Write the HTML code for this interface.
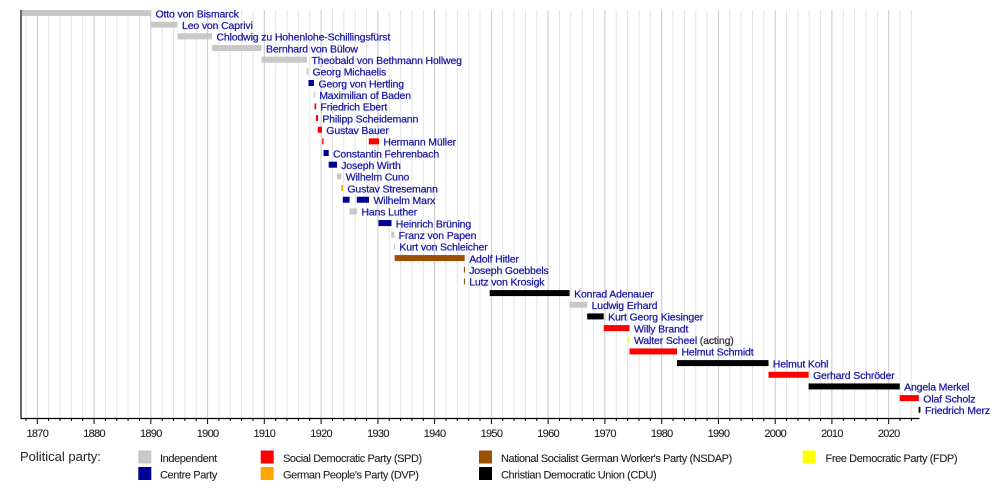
<!DOCTYPE html>
<html><head><meta charset="utf-8"><style>
html,body{margin:0;padding:0;background:#fff;}
svg{display:block;}
.n{font-family:"Liberation Sans",Arial,sans-serif;font-size:10.5px;letter-spacing:-0.15px;fill:#1818a4;stroke:#1818a4;stroke-width:0.25px;}
.t{font-family:"Liberation Sans",Arial,sans-serif;font-size:11px;letter-spacing:-0.7px;fill:#222;text-anchor:middle;stroke:#222;stroke-width:0.1px;}
.l{font-family:"Liberation Sans",Arial,sans-serif;font-size:11px;letter-spacing:-0.4px;fill:#222;stroke:#222;stroke-width:0.1px;}
</style></head><body>
<svg width="1000" height="488" viewBox="0 0 1000 488" xmlns="http://www.w3.org/2000/svg">
<rect width="1000" height="488" fill="#fff"/>
<!-- minor gridlines -->
<path stroke="#e4e4e4" stroke-width="1" fill="none" d="M26 10V418M48.6 10V418M60 10V418M71.4 10V418M82.7 10V418M105.4 10V418M116.8 10V418M128.1 10V418M139.5 10V418M162.2 10V418M173.5 10V418M184.9 10V418M196.2 10V418M218.9 10V418M230.3 10V418M241.6 10V418M253 10V418M275.7 10V418M287 10V418M298.4 10V418M309.7 10V418M332.5 10V418M343.8 10V418M355.2 10V418M366.5 10V418M389.2 10V418M400.6 10V418M411.9 10V418M423.3 10V418M446 10V418M457.3 10V418M468.7 10V418M480 10V418M502.7 10V418M514.1 10V418M525.4 10V418M536.8 10V418M559.5 10V418M570.8 10V418M582.2 10V418M593.5 10V418M616.3 10V418M627.6 10V418M639 10V418M650.3 10V418M673 10V418M684.4 10V418M695.7 10V418M707.1 10V418M729.8 10V418M741.1 10V418M752.5 10V418M763.8 10V418M786.5 10V418M797.9 10V418M809.2 10V418M820.6 10V418M843.3 10V418M854.6 10V418M866 10V418M877.3 10V418M900 10V418M911.4 10V418"/>
<!-- major gridlines -->
<path stroke="#c8c8c8" stroke-width="1" fill="none" d="M37.3 10V418M94.1 10V418M150.8 10V418M207.6 10V418M264.3 10V418M321.1 10V418M377.9 10V418M434.6 10V418M491.4 10V418M548.1 10V418M604.9 10V418M661.7 10V418M718.4 10V418M775.2 10V418M831.9 10V418M888.7 10V418"/>
<!-- axes -->
<path stroke="#000" stroke-width="1.2" fill="none" d="M21 10V418.5H919.5"/>
<path stroke="#000" stroke-width="1" fill="none" d="M26 418V421M48.6 418V421M60 418V421M71.4 418V421M82.7 418V421M105.4 418V421M116.8 418V421M128.1 418V421M139.5 418V421M162.2 418V421M173.5 418V421M184.9 418V421M196.2 418V421M218.9 418V421M230.3 418V421M241.6 418V421M253 418V421M275.7 418V421M287 418V421M298.4 418V421M309.7 418V421M332.5 418V421M343.8 418V421M355.2 418V421M366.5 418V421M389.2 418V421M400.6 418V421M411.9 418V421M423.3 418V421M446 418V421M457.3 418V421M468.7 418V421M480 418V421M502.7 418V421M514.1 418V421M525.4 418V421M536.8 418V421M559.5 418V421M570.8 418V421M582.2 418V421M593.5 418V421M616.3 418V421M627.6 418V421M639 418V421M650.3 418V421M673 418V421M684.4 418V421M695.7 418V421M707.1 418V421M729.8 418V421M741.1 418V421M752.5 418V421M763.8 418V421M786.5 418V421M797.9 418V421M809.2 418V421M820.6 418V421M843.3 418V421M854.6 418V421M866 418V421M877.3 418V421M900 418V421M911.4 418V421"/>
<path stroke="#000" stroke-width="1" fill="none" d="M37.3 418V424M94.1 418V424M150.8 418V424M207.6 418V424M264.3 418V424M321.1 418V424M377.9 418V424M434.6 418V424M491.4 418V424M548.1 418V424M604.9 418V424M661.7 418V424M718.4 418V424M775.2 418V424M831.9 418V424M888.7 418V424"/>
<!-- tick labels -->
<g class="t">
<text x="37.3" y="437">1870</text><text x="94.1" y="437">1880</text><text x="150.8" y="437">1890</text><text x="207.6" y="437">1900</text><text x="264.3" y="437">1910</text><text x="321.1" y="437">1920</text><text x="377.9" y="437">1930</text><text x="434.6" y="437">1940</text><text x="491.4" y="437">1950</text><text x="548.1" y="437">1960</text><text x="604.9" y="437">1970</text><text x="661.7" y="437">1980</text><text x="718.4" y="437">1990</text><text x="775.2" y="437">2000</text><text x="831.9" y="437">2010</text><text x="888.7" y="437">2020</text>
</g>
<!-- bars -->
<g>
<rect x="22" y="10" width="129" height="6" fill="#c8c8c8"/>
<rect x="151" y="21.67" width="26.5" height="6" fill="#c8c8c8"/>
<rect x="177.5" y="33.34" width="34.5" height="6" fill="#c8c8c8"/>
<rect x="212" y="45.01" width="49.5" height="6" fill="#c8c8c8"/>
<rect x="261.5" y="56.68" width="45.5" height="6" fill="#c8c8c8"/>
<rect x="306.5" y="68.35" width="2" height="6" fill="#c8c8c8"/>
<rect x="308.5" y="80.02" width="5.5" height="6" fill="#000099"/>
<rect x="313.8" y="91.69" width="1.3" height="6" fill="#c8c8c8"/>
<rect x="314.5" y="103.36" width="1.7" height="6" fill="#ff0000"/>
<rect x="316" y="115.03" width="2" height="6" fill="#ff0000"/>
<rect x="317.7" y="126.7" width="4.3" height="6" fill="#ff0000"/>
<rect x="322.2" y="138.37" width="1.4" height="6" fill="#ff0000"/>
<rect x="368.8" y="138.37" width="10.2" height="6" fill="#ff0000"/>
<rect x="323.5" y="150.04" width="5.2" height="6" fill="#000099"/>
<rect x="328.7" y="161.71" width="8.3" height="6" fill="#000099"/>
<rect x="337" y="173.38" width="4.3" height="6" fill="#c8c8c8"/>
<rect x="341.3" y="185.05" width="1.7" height="6" fill="#ffa500"/>
<rect x="342.8" y="196.72" width="6.8" height="6" fill="#000099"/>
<rect x="356.8" y="196.72" width="12.2" height="6" fill="#000099"/>
<rect x="349.4" y="208.39" width="7.6" height="6" fill="#c8c8c8"/>
<rect x="378.5" y="220.06" width="13" height="6" fill="#000099"/>
<rect x="391.3" y="231.73" width="2.9" height="6" fill="#c8c8c8"/>
<rect x="394" y="243.4" width="1.2" height="6" fill="#c8c8c8"/>
<rect x="394.7" y="255.07" width="70" height="6" fill="#9a5000"/>
<rect x="463.9" y="266.74" width="1.1" height="6" fill="#9a5000"/>
<rect x="463.9" y="278.41" width="1.1" height="6" fill="#9a5000"/>
<rect x="489.7" y="290.08" width="79.9" height="6" fill="#000"/>
<rect x="569.6" y="301.75" width="17.6" height="6" fill="#c8c8c8"/>
<rect x="587.2" y="313.42" width="16.5" height="6" fill="#000"/>
<rect x="603.7" y="325.09" width="25.8" height="6" fill="#ff0000"/>
<rect x="628.2" y="336.76" width="1.4" height="6" fill="#ffff00"/>
<rect x="629.5" y="348.43" width="47.5" height="6" fill="#ff0000"/>
<rect x="677" y="360.1" width="91.5" height="6" fill="#000"/>
<rect x="768.5" y="371.77" width="40.1" height="6" fill="#ff0000"/>
<rect x="808.6" y="383.44" width="91.1" height="6" fill="#000"/>
<rect x="899.7" y="395.11" width="19.2" height="6" fill="#ff0000"/>
<rect x="918.6" y="406.78" width="1.8" height="6" fill="#000"/>
</g>
<!-- names -->
<g class="n">
<text x="155.5" y="17.3">Otto von Bismarck</text>
<text x="182" y="28.97">Leo von Caprivi</text>
<text x="216.5" y="40.64">Chlodwig zu Hohenlohe-Schillingsfürst</text>
<text x="266" y="52.31">Bernhard von Bülow</text>
<text x="311.5" y="63.98">Theobald von Bethmann Hollweg</text>
<text x="312.5" y="75.65">Georg Michaelis</text>
<text x="318.5" y="87.32">Georg von Hertling</text>
<text x="319.2" y="98.99">Maximilian of Baden</text>
<text x="320.5" y="110.66">Friedrich Ebert</text>
<text x="322.4" y="122.33">Philipp Scheidemann</text>
<text x="326.3" y="134">Gustav Bauer</text>
<text x="383.4" y="145.67">Hermann Müller</text>
<text x="333" y="157.34">Constantin Fehrenbach</text>
<text x="341.2" y="169.01">Joseph Wirth</text>
<text x="345.7" y="180.68">Wilhelm Cuno</text>
<text x="347.4" y="192.35">Gustav Stresemann</text>
<text x="373.5" y="204.02">Wilhelm Marx</text>
<text x="361.5" y="215.69">Hans Luther</text>
<text x="395.8" y="227.36">Heinrich Brüning</text>
<text x="398.6" y="239.03">Franz von Papen</text>
<text x="399.4" y="250.7">Kurt von Schleicher</text>
<text x="469.2" y="262.37">Adolf Hitler</text>
<text x="469.2" y="274.04">Joseph Goebbels</text>
<text x="469.2" y="285.71">Lutz von Krosigk</text>
<text x="574.1" y="297.38">Konrad Adenauer</text>
<text x="591.6" y="309.05">Ludwig Erhard</text>
<text x="608.1" y="320.72">Kurt Georg Kiesinger</text>
<text x="634" y="332.39">Willy Brandt</text>
<text x="634" y="344.06">Walter Scheel <tspan fill="#333" stroke="#333">(acting)</tspan></text>
<text x="681.5" y="355.73">Helmut Schmidt</text>
<text x="772.8" y="367.4">Helmut Kohl</text>
<text x="813" y="379.07">Gerhard Schröder</text>
<text x="904.1" y="390.74">Angela Merkel</text>
<text x="923.3" y="402.41">Olaf Scholz</text>
<text x="925" y="414.08">Friedrich Merz</text>
</g>
<!-- legend -->
<text x="20" y="461" font-family="Liberation Sans, Arial, sans-serif" font-size="13" fill="#222">Political party:</text>
<rect x="138.3" y="450.5" width="13" height="13" fill="#c8c8c8"/>
<rect x="138.3" y="467" width="13" height="13" fill="#000099"/>
<rect x="260.7" y="450.5" width="13" height="13" fill="#ff0000"/>
<rect x="260.7" y="467" width="13" height="13" fill="#ffa500"/>
<rect x="479" y="450.5" width="13" height="13" fill="#9a5000"/>
<rect x="479" y="467" width="13" height="13" fill="#000"/>
<rect x="802.7" y="450.5" width="13" height="13" fill="#ffff00"/>
<g class="l">
<text x="160" y="462">Independent</text>
<text x="160" y="478.5">Centre Party</text>
<text x="283" y="462">Social Democratic Party (SPD)</text>
<text x="283" y="478.5">German People's Party (DVP)</text>
<text x="501" y="462">National Socialist German Worker's Party (NSDAP)</text>
<text x="501" y="478.5">Christian Democratic Union (CDU)</text>
<text x="825.5" y="462">Free Democratic Party (FDP)</text>
</g>
</svg>
</body></html>
